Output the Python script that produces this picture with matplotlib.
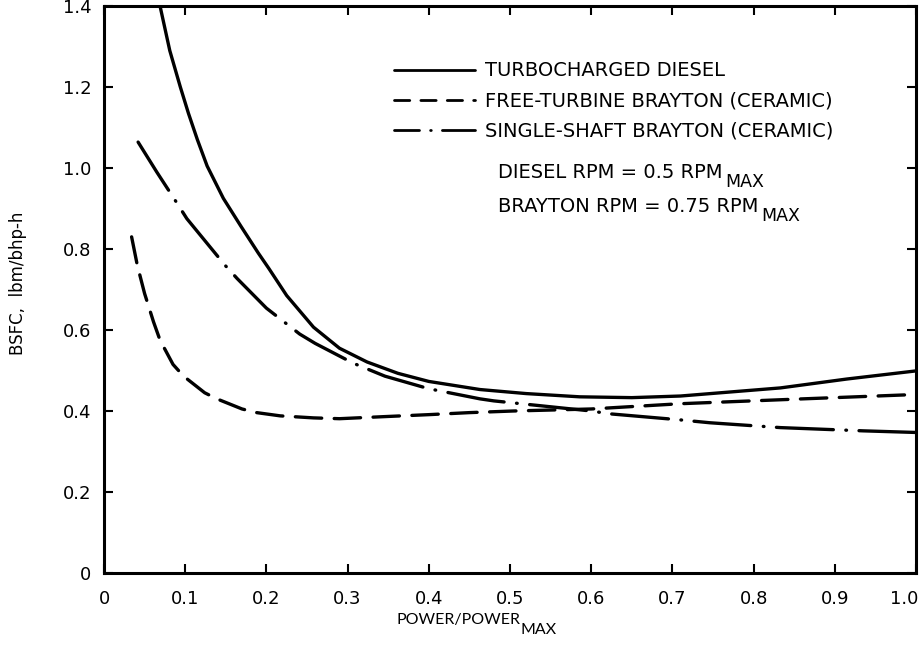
import matplotlib
matplotlib.use("Agg")
import matplotlib.pyplot as plt
from matplotlib.lines import Line2D
from matplotlib.transforms import ScaledTranslation

plt.rcParams['font.family'] = ['DejaVu Sans']
plt.rcParams['mathtext.default'] = 'regular'
plt.rcParams['lines.scale_dashes'] = False

# Data
diesel_x = [0.069, 0.081, 0.094, 0.104, 0.115, 0.127, 0.147, 0.169, 0.19, 0.203, 0.225, 0.258,
            0.29, 0.324, 0.362, 0.40, 0.463, 0.52, 0.586, 0.65, 0.71, 0.833, 0.915, 1.0]
diesel_y = [1.40, 1.29, 1.20, 1.135, 1.07, 1.005, 0.925, 0.855, 0.79, 0.752, 0.685, 0.607,
            0.555, 0.521, 0.493, 0.473, 0.453, 0.443, 0.435, 0.433, 0.437, 0.457, 0.479, 0.499]

free_x = [0.034, 0.041, 0.050, 0.061, 0.069, 0.085, 0.098, 0.124, 0.139, 0.17, 0.188,
          0.217, 0.258, 0.29, 0.344, 0.40, 0.45, 0.504, 0.60, 0.71, 0.861, 0.99]
free_y = [0.83, 0.76, 0.69, 0.62, 0.575, 0.515, 0.486, 0.445, 0.43, 0.405, 0.396,
          0.388, 0.383, 0.381, 0.386, 0.391, 0.396, 0.40, 0.405, 0.418, 0.43, 0.44]

single_x = [0.042, 0.065, 0.089, 0.102, 0.149, 0.164, 0.20, 0.241, 0.26, 0.307, 0.346, 0.40,
            0.463, 0.48, 0.60, 0.623, 0.71, 0.746, 0.833, 0.935, 1.0]
single_y = [1.064, 0.99, 0.916, 0.875, 0.76, 0.727, 0.654, 0.59, 0.567, 0.518, 0.486, 0.455,
            0.43, 0.425, 0.40, 0.393, 0.378, 0.371, 0.359, 0.351, 0.347]

labels = ['TURBOCHARGED DIESEL', 'FREE-TURBINE BRAYTON (CERAMIC)', 'SINGLE-SHAFT BRAYTON (CERAMIC)']

x_ticks = [0, 0.1, 0.2, 0.3, 0.4, 0.5, 0.6, 0.7, 0.8, 0.9, 1.0]
x_ticklabels = ['0', '0.1', '0.2', '0.3', '0.4', '0.5', '0.6', '0.7', '0.8', '0.9', '1.0']
y_ticks = [0, 0.2, 0.4, 0.6, 0.8, 1.0, 1.2, 1.4]
y_ticklabels = ['0', '0.2', '0.4', '0.6', '0.8', '1.0', '1.2', '1.4']

fig = plt.figure(figsize=(9.22, 6.65), dpi=100)
ax = fig.add_axes([104/922, 1 - 573/665, (916 - 104)/922, (573 - 6)/665])

lw = 2.4
ax.plot(diesel_x, diesel_y, color='black', lw=lw, solid_capstyle='round', solid_joinstyle='round')
ax.plot(free_x, free_y, color='black', lw=lw, dashes=(19, 9), dash_capstyle='round')
ax.plot(single_x, single_y, color='black', lw=lw, dashes=(41, 9, 0.5, 9), dash_capstyle='round')

ax.set_xlim(0, 1.0)
ax.set_ylim(0, 1.4)
ax.set_xticks(x_ticks)
ax.set_xticklabels(x_ticklabels)
ax.set_yticks(y_ticks)
ax.set_yticklabels(y_ticklabels)
ax.tick_params(direction='in', length=6.5, width=1.5, top=True, right=True,
               labelsize=13, colors='black')
ax.tick_params(axis='x', pad=12)
ax.tick_params(axis='y', pad=9)
for s in ax.spines.values():
    s.set_linewidth(2.2)

last = ax.get_xticklabels()[-1]
last.set_transform(last.get_transform() + ScaledTranslation(-12/100, 0, fig.dpi_scale_trans))

handles = [
    Line2D([], [], color='black', lw=2.0, solid_capstyle='round'),
    Line2D([], [], color='black', lw=2.0, dashes=(11, 8), dash_capstyle='round'),
    Line2D([], [], color='black', lw=2.0, dashes=(18, 8, 0.5, 8, 30, 8), dash_capstyle='round'),
]
leg = ax.legend(handles, labels, loc='upper left', bbox_to_anchor=(0.347, 0.916), frameon=False,
                fontsize=14, handlelength=4.2, handletextpad=0.5, labelspacing=0.58,
                borderaxespad=0)

t1 = ax.text(0.485, 0.707, 'DIESEL RPM = 0.5 RPM', transform=ax.transAxes,
             fontsize=14, va='center', ha='left')
ax.annotate('MAX', xy=(1, 0.5), xycoords=t1, xytext=(2, -7), textcoords='offset points',
            fontsize=12.5, va='center', ha='left')
t2 = ax.text(0.485, 0.647, 'BRAYTON RPM = 0.75 RPM', transform=ax.transAxes,
             fontsize=14, va='center', ha='left')
ax.annotate('MAX', xy=(1, 0.5), xycoords=t2, xytext=(2, -7), textcoords='offset points',
            fontsize=12.5, va='center', ha='left')

fig.text(18/922, 1 - 283/665, 'BSFC,  lbm/bhp-h', rotation=90, fontsize=12,
         va='center', ha='center')
xl = fig.text(520/922, 1 - 620/665, 'POWER/POWER', fontsize=11.5,
              va='center', ha='right', family='Lato')
ax.annotate('MAX', xy=(1, 0.5), xycoords=xl, xytext=(0.5, -7), textcoords='offset points',
            fontsize=11.5, va='center', ha='left', family='Lato', annotation_clip=False)

fig.savefig('out.png', dpi=100, facecolor='white')
